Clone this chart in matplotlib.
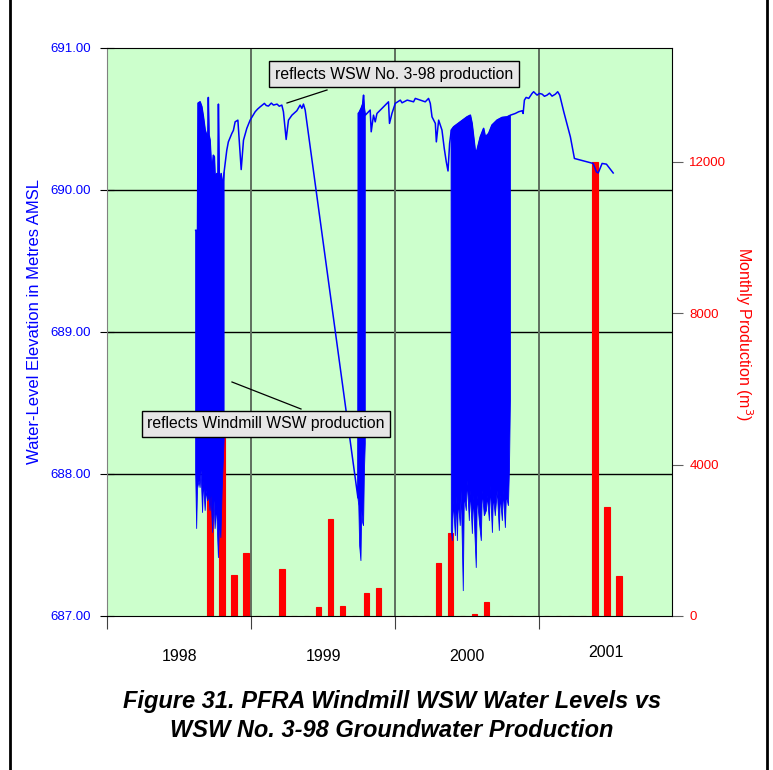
import matplotlib
matplotlib.use("Agg")
import matplotlib.pyplot as plt
from matplotlib.lines import Line2D

plt.rcParams['font.family'] = ['Liberation Sans', 'DejaVu Sans']

W, H = 773, 770

# monthly production of WSW No. 3-98 (m3), Sep 1998 .. Jul 2001
prod_months = ["1998-09", "1998-10", "1998-11", "1998-12",
               "1999-01", "1999-02", "1999-03", "1999-04", "1999-05", "1999-06",
               "1999-07", "1999-08", "1999-09", "1999-10", "1999-11", "1999-12",
               "2000-01", "2000-02", "2000-03", "2000-04", "2000-05", "2000-06",
               "2000-07", "2000-08", "2000-09", "2000-10", "2000-11", "2000-12",
               "2001-01", "2001-02", "2001-03", "2001-04", "2001-05", "2001-06",
               "2001-07"]
prod_values = [3400, 4700, 1090, 1670,
               0, 0, 1245, 0, 0, 240, 2570, 265, 0, 610, 740, 0,
               0, 0, 0, 1400, 2200, 0, 50, 370, 0, 0, 0, 0,
               0, 0, 0, 0, 12000, 2890, 1060]

# water level line (decimal year, m AMSL)
level_t = [1998.615, 1998.628, 1998.632, 1998.646, 1998.658, 1998.669, 1998.681,
           1998.692, 1998.700, 1998.703, 1998.708, 1998.715, 1998.727, 1998.738,
           1998.745, 1998.750, 1998.762, 1998.770, 1998.773, 1998.780, 1998.792,
           1998.803, 1998.8125, 1998.831, 1998.842, 1998.866, 1998.877, 1998.889,
           1998.908, 1998.931, 1998.947, 1998.970, 1998.993, 1999.010, 1999.028,
           1999.045, 1999.063, 1999.092, 1999.105, 1999.120, 1999.140, 1999.155,
           1999.180, 1999.195, 1999.213, 1999.224, 1999.243, 1999.259, 1999.283,
           1999.317, 1999.340, 1999.352, 1999.363, 1999.375,
           1999.741, 1999.750, 1999.764, 1999.774, 1999.780, 1999.785, 1999.792,
           1999.815, 1999.826, 1999.833, 1999.849, 1999.861, 1999.873, 1999.908,
           1999.942, 1999.953, 1999.960, 1999.977, 2000.000, 2000.035, 2000.047,
           2000.083, 2000.127, 2000.139, 2000.174, 2000.208, 2000.231, 2000.243,
           2000.255, 2000.278, 2000.285, 2000.301, 2000.324, 2000.340, 2000.354,
           2000.366, 2000.377, 2000.389,
           2000.405, 2000.451, 2000.498, 2000.521, 2000.533, 2000.556, 2000.567,
           2000.590, 2000.613, 2000.625, 2000.648, 2000.671, 2000.683, 2000.706,
           2000.741, 2000.776, 2000.799, 2000.833, 2000.856, 2000.880, 2000.887,
           2000.896, 2000.908, 2000.926, 2000.949, 2000.960, 2000.984, 2001.000,
           2001.019, 2001.035, 2001.053, 2001.070, 2001.088, 2001.111, 2001.127,
           2001.141, 2001.169, 2001.215, 2001.243, 2001.373, 2001.396, 2001.408,
           2001.435, 2001.465, 2001.512]
level_v = [689.716, 689.716, 690.612, 690.621, 690.586, 690.515, 690.422,
           690.386, 690.386, 690.652, 690.386, 690.351, 690.116, 690.245,
           690.233, 690.092, 690.116, 690.104, 690.605, 690.022, 690.116,
           690.022, 690.127, 690.280, 690.339, 690.398, 690.420, 690.480,
           690.492, 690.144, 690.351, 690.434, 690.492, 690.520, 690.551,
           690.570, 690.586, 690.610, 690.595, 690.591, 690.612, 690.598,
           690.605, 690.590, 690.598, 690.551, 690.356, 690.492, 690.527,
           690.558, 690.598, 690.575, 690.605, 690.563,
           687.832, 690.548, 690.577, 690.605, 690.668, 690.577, 690.527,
           690.551, 690.563, 690.410, 690.527, 690.480, 690.539, 690.575,
           690.610, 690.621, 690.469, 690.539, 690.610, 690.633, 690.614,
           690.633, 690.621, 690.645, 690.633, 690.621, 690.645, 690.610,
           690.515, 690.469, 690.339, 690.492, 690.422, 690.292, 690.198,
           690.134, 690.328, 690.422,
           690.445, 690.480, 690.515, 690.527, 690.469, 690.268, 690.280,
           690.374, 690.434, 690.374, 690.398, 690.457, 690.469, 690.492,
           690.511, 690.515, 690.527, 690.539, 690.551, 690.558, 690.539,
           690.633, 690.652, 690.645, 690.680, 690.692, 690.668, 690.680,
           690.675, 690.660, 690.668, 690.682, 690.661, 690.675, 690.692,
           690.668, 690.551, 690.374, 690.222, 690.187, 690.127, 690.120,
           690.187, 690.182, 690.120]

# drawdown envelopes while the windmill was pumping (decimal year, m AMSL)
pump98_top_t = [1998.615, 1998.628, 1998.632, 1998.646, 1998.658, 1998.669, 1998.681,
                1998.692, 1998.700, 1998.703, 1998.708, 1998.715, 1998.727, 1998.738,
                1998.745, 1998.750, 1998.762, 1998.770, 1998.773, 1998.780, 1998.792,
                1998.803, 1998.8125]
pump98_top_v = [689.716, 689.716, 690.612, 690.621, 690.586, 690.515, 690.422,
                690.386, 690.386, 690.652, 690.386, 690.351, 690.116, 690.245,
                690.233, 690.092, 690.116, 690.104, 690.605, 690.022, 690.116,
                690.022, 690.127]
pump98_low_t = [1998.615, 1998.622, 1998.628, 1998.639, 1998.646, 1998.653, 1998.663,
                1998.670, 1998.681, 1998.688, 1998.698, 1998.708, 1998.715, 1998.722,
                1998.733, 1998.743, 1998.750, 1998.760, 1998.773, 1998.781, 1998.790,
                1998.799, 1998.806, 1998.8125]
pump98_low_v = [688.023, 687.614, 687.896, 687.952, 687.903, 688.023, 687.727,
                687.952, 687.741, 687.882, 687.811, 687.847, 687.741, 687.847,
                687.586, 687.811, 687.614, 687.776, 687.409, 687.670, 687.550,
                687.882, 688.072, 688.235]

pump99_top_t = [1999.741, 1999.750, 1999.764, 1999.774, 1999.780, 1999.785, 1999.792]
pump99_top_v = [690.541, 690.548, 690.577, 690.605, 690.668, 690.577, 690.527]
pump99_low_t = [1999.741, 1999.747, 1999.753, 1999.762, 1999.767, 1999.774, 1999.780,
                1999.786, 1999.792]
pump99_low_v = [687.832, 687.776, 687.494, 687.388, 687.741, 687.656, 687.635,
                688.023, 688.213]

pump00_top_t = [2000.387, 2000.405, 2000.451, 2000.498, 2000.521, 2000.533, 2000.556,
                2000.567, 2000.590, 2000.613, 2000.625, 2000.648, 2000.671, 2000.683,
                2000.706, 2000.741, 2000.776, 2000.799]
pump00_top_v = [690.422, 690.445, 690.480, 690.515, 690.527, 690.469, 690.268,
                690.280, 690.374, 690.434, 690.374, 690.398, 690.457, 690.469,
                690.492, 690.511, 690.515, 690.527]
pump00_low_t = [2000.389, 2000.396, 2000.403, 2000.417, 2000.424, 2000.431, 2000.438,
                2000.451, 2000.458, 2000.472, 2000.479, 2000.493, 2000.500, 2000.514,
                2000.521, 2000.535, 2000.542, 2000.562, 2000.569, 2000.583, 2000.597,
                2000.604, 2000.618, 2000.632, 2000.639, 2000.653, 2000.660, 2000.674,
                2000.681, 2000.694, 2000.708, 2000.722, 2000.729, 2000.743, 2000.750,
                2000.764, 2000.771, 2000.785, 2000.792, 2000.799]
pump00_low_v = [687.600, 687.529, 687.811, 687.564, 687.847, 687.529, 687.811,
                687.635, 687.882, 687.176, 687.847, 687.741, 687.952, 687.670,
                687.882, 687.579, 687.847, 687.339, 687.847, 687.670, 687.529,
                687.882, 687.705, 687.741, 687.847, 687.670, 687.917, 687.586,
                687.847, 687.705, 687.882, 687.600, 687.847, 687.670, 687.882,
                687.621, 687.847, 687.776, 688.023, 688.517]

years = [1998, 1999, 2000, 2001]
year_labels = ["1998", "1999", "2000", "2001"]
level_ticks = [687, 688, 689, 690, 691]
prod_ticks = [0, 4000, 8000, 12000]

BLUE = '#0000FF'
RED = '#FF0000'
GREEN_BG = '#CCFFCC'


def fx(px):
    return px / W


def fy(py):
    return 1 - py / H


fig = plt.figure(figsize=(W / 100, H / 100), dpi=100)
fig.patch.set_facecolor('white')

# plot area (pixels of the reference: x 107..672, y 48..616)
ax = fig.add_axes([fx(107), fy(616), fx(672) - fx(107), fy(48) - fy(616)])
ax2 = ax.twinx()
ax.yaxis.tick_right()
ax2.yaxis.tick_left()

ax.set_facecolor(GREEN_BG)
xmin, xmax = 1998.0, 2001.92
ax.set_xlim(xmin, xmax)
ax.set_ylim(0, 15000)
ax2.set_ylim(687, 691)

# grid (behind the bars)
ax.hlines([688, 689, 690], xmin, xmax, transform=ax2.transData,
          colors='black', lw=1.0, zorder=0.5)
for yr in years[1:]:
    ax.axvline(yr, color='#5f6f5f', lw=1.4, zorder=0.5)

# production bars
bar_x = [int(m[:4]) + (int(m[5:]) - 1 + 0.6) / 12 for m in prod_months]
ax.bar(bar_x, prod_values, width=0.04, color=RED, edgecolor=RED, lw=0.8, zorder=2)

# water levels
for tt, tv, lt, lv in [(pump98_top_t, pump98_top_v, pump98_low_t, pump98_low_v),
                       (pump99_top_t, pump99_top_v, pump99_low_t, pump99_low_v),
                       (pump00_top_t, pump00_top_v, pump00_low_t, pump00_low_v)]:
    ax2.fill(tt + lt[::-1], tv + lv[::-1], color=BLUE, lw=0.6, zorder=3)
ax2.plot(level_t, level_v, color=BLUE, lw=1.1, zorder=3)
ax2.set_xlim(xmin, xmax)

# axes styling
for sp in ['top', 'right', 'bottom']:
    ax2.spines[sp].set_color('black')
ax2.spines['left'].set_color('#808080')
for sp in ax.spines.values():
    sp.set_visible(False)

ax2.set_yticks(level_ticks)
ax2.set_yticklabels(["%.2f" % v for v in level_ticks])
ax2.tick_params(axis='y', direction='inout', length=10, color='black',
                labelcolor=BLUE, labelsize=9.5, pad=6.5)

ax.set_yticks(prod_ticks)
ax.set_yticklabels([str(v) for v in prod_ticks])
ax.tick_params(axis='y', direction='out', length=8, color='#606060',
               labelcolor=RED, labelsize=9.5, pad=4.5)

# axis titles
fig.text(fx(35), fy(322), 'Water-Level Elevation in Metres AMSL', color=BLUE,
         fontsize=12, rotation=90, ha='center', va='center')
fig.text(fx(744), fy(334), 'Monthly Production (m$^3$)', color=RED,
         fontsize=11.5, rotation=270, ha='center', va='center')

ax.set_xticks(years)
ax.set_xticklabels([])
ax.tick_params(axis='x', direction='out', length=9, color='#404040')
ax2.tick_params(axis='x', length=0)

# year labels centred in each year
lab_x = [yr + 0.5 for yr in years[:-1]] + [(years[-1] + xmax) / 2]
lab_y = [-0.072, -0.072, -0.072, -0.064]
for x, y, s in zip(lab_x, lab_y, year_labels):
    ax.text(x, y, s, transform=ax.get_xaxis_transform(), ha='center', va='center',
            fontsize=11.5, color='black')

# call-outs
box = dict(boxstyle='square,pad=0.35', facecolor='#E6E6E6', edgecolor='black', lw=1)
fig.text(fx(394), fy(74), 'reflects WSW No. 3-98 production', ha='center',
         va='center', fontsize=11.3, bbox=box, zorder=5)
fig.text(fx(266), fy(424), 'reflects Windmill WSW production', ha='center',
         va='center', fontsize=11.3, bbox=box, zorder=5)
fig.add_artist(Line2D([fx(327), fx(287)], [fy(90), fy(103)], color='black', lw=0.9))
fig.add_artist(Line2D([fx(232), fx(301)], [fy(382), fy(409)], color='black', lw=0.9))

# caption
fig.text(fx(392), fy(716),
         'Figure 31. PFRA Windmill WSW Water Levels vs\nWSW No. 3-98 Groundwater Production',
         ha='center', va='center', fontsize=17, fontweight='bold', style='italic',
         linespacing=1.3)

# page frame
fig.add_artist(Line2D([fx(10), fx(10)], [0, 1], color='black', lw=2))
fig.add_artist(Line2D([fx(767), fx(767)], [0, 1], color='black', lw=2))

fig.savefig('out.png', dpi=100)
